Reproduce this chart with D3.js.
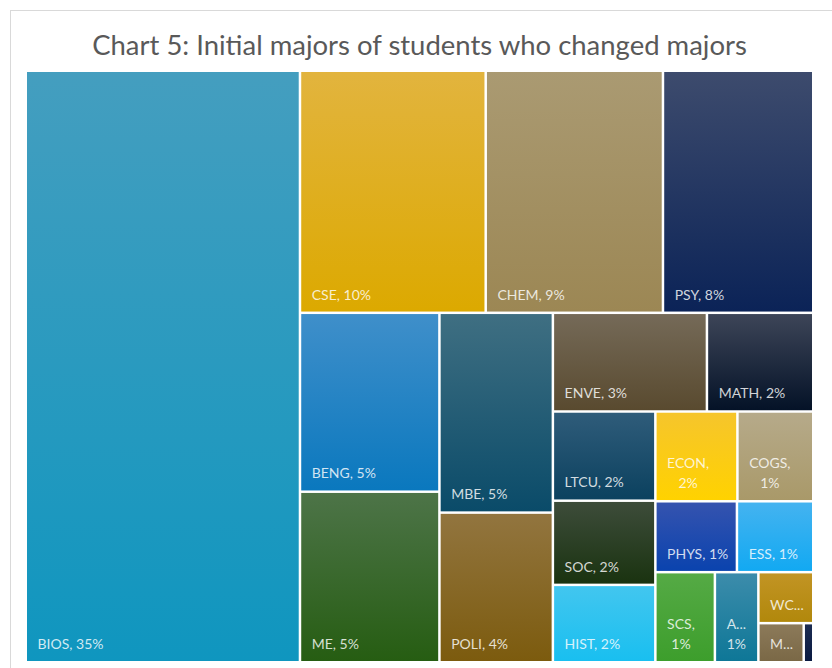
<!DOCTYPE html>
<html>
<head>
<meta charset="utf-8">
<script src="https://cdn.jsdelivr.net/npm/d3@7"></script>
<style>
  body { margin: 0; background: #ffffff; }
  svg { display: block; }
</style>
</head>
<body>
<svg id="chart" width="832" height="668"></svg>
<script>
// Initial majors of students who later changed majors (share of students, %)
const majors = ["BIOS", "CSE", "CHEM", "PSY", "BENG", "ME", "MBE", "POLI", "ENVE", "MATH",
                "LTCU", "SOC", "HIST", "ECON", "COGS", "PHYS", "ESS", "SCS", "ANTH", "WCH", "MSE", "PHIL"];
const shares = [34.78, 9.64, 9.20, 7.80, 5.35, 5.10, 4.86, 3.64, 3.26, 2.25,
                1.96, 1.85, 1.70, 1.58, 1.46, 1.24, 1.16, 1.15, 0.84, 0.60, 0.38, 0.08];
const titleText = "Chart 5: Initial majors of students who changed majors";

// Fill gradients for each major: lighter top, deeper bottom
const topColors = ["#449ebf", "#e2b43e", "#aa9a72", "#3d4b6d", "#3f8fca", "#4d7448", "#3f6f82", "#92753f",
                   "#756a58", "#3d4558", "#2f5c7a", "#3d4c3a", "#42c6ef", "#f6c52c", "#b6aa8a", "#3553af",
                   "#44b3f0", "#55aa45", "#3c8cab", "#c29424", "#8c7a5a", "#1c2c52"];
const bottomColors = ["#0f96bf", "#dca900", "#9c8754", "#0b2357", "#0a78be", "#265d12", "#0a4b69", "#7c5b0e",
                      "#594a2f", "#041227", "#0b415f", "#1a3310", "#19bff0", "#ffd200", "#a99969", "#0a43ae",
                      "#12a9f2", "#3d9e2c", "#0e7797", "#b1880c", "#7a6846", "#0a1a42"];

const W = 832, H = 668;
const plot = { x: 27, y: 72, w: 785, h: 589 };
const LABEL_FONT = "Lato, 'Open Sans', sans-serif";
const LABEL_SIZE = 14;

const svg = d3.select("#chart");

// chart frame
svg.append("rect")
  .attr("x", 10.5).attr("y", 10.5)
  .attr("width", W + 20).attr("height", H + 20)
  .attr("fill", "#ffffff").attr("stroke", "#d9d9d9").attr("stroke-width", 1);

// title, sized to span the plot width nicely
const title = svg.append("text")
  .attr("x", plot.x + plot.w / 2).attr("y", 55)
  .attr("text-anchor", "middle")
  .attr("font-family", LABEL_FONT)
  .attr("font-size", 24)
  .attr("fill", "#595959")
  .text(titleText);
const tw = title.node().getComputedTextLength();
if (tw > 0) title.attr("font-size", 24 * 655 / tw);

// Squarified tiling that measures aspect with a slight horizontal stretch
function stretchedSquarify(stretch) {
  return function (parent, x0, y0, x1, y1) {
    const nodes = parent.children, n = nodes.length;
    let value = parent.value, i0 = 0;
    while (i0 < n) {
      const dx = x1 - x0, dy = y1 - y0, dice = dx < dy;
      const worst = (i1) => {
        let s = 0;
        for (let i = i0; i < i1; i++) s += nodes[i].value;
        let m = 0;
        for (let i = i0; i < i1; i++) {
          const v = nodes[i].value;
          let rw, rh;
          if (dice) { rh = dy * s / value; rw = dx * v / s; }
          else { rw = dx * s / value; rh = dy * v / s; }
          const r = stretch * rw / rh;
          m = Math.max(m, r, 1 / r);
        }
        return m;
      };
      let i1 = i0 + 1, best = worst(i1);
      while (i1 < n) {
        const next = worst(i1 + 1);
        if (next > best) break;
        best = next; i1++;
      }
      const children = nodes.slice(i0, i1);
      const sum = d3.sum(children, d => d.value);
      const row = { value: sum, children };
      if (dice) {
        const ye = i1 >= n ? y1 : y0 + dy * sum / value;
        d3.treemapDice(row, x0, y0, x1, ye); y0 = ye;
      } else {
        const xe = i1 >= n ? x1 : x0 + dx * sum / value;
        d3.treemapSlice(row, x0, y0, xe, y1); x0 = xe;
      }
      value -= sum; i0 = i1;
    }
  };
}

const items = majors.map((m, i) => ({ name: m, value: shares[i], i }));
const total = d3.sum(shares);

const root = d3.hierarchy({ children: items })
  .sum(d => d.value || 0)
  .sort((a, b) => b.value - a.value);

d3.treemap()
  .size([plot.w, plot.h])
  .paddingInner(2.5)
  .tile(stretchedSquarify(1.075))(root);

const defs = svg.append("defs");
items.forEach((d, i) => {
  const g = defs.append("linearGradient")
    .attr("id", "grad" + i)
    .attr("x1", 0).attr("y1", 0).attr("x2", 0).attr("y2", 1);
  g.append("stop").attr("offset", 0).attr("stop-color", topColors[i]);
  g.append("stop").attr("offset", 1).attr("stop-color", bottomColors[i]);
});

const chartG = svg.append("g").attr("transform", `translate(${plot.x},${plot.y})`);
const leaves = root.leaves();

chartG.selectAll("rect.cell")
  .data(leaves)
  .join("rect")
  .attr("class", "cell")
  .attr("x", d => d.x0).attr("y", d => d.y0)
  .attr("width", d => Math.max(0, d.x1 - d.x0))
  .attr("height", d => Math.max(0, d.y1 - d.y0))
  .attr("fill", d => `url(#grad${d.data.i})`);

// text measuring helper
const probe = svg.append("text")
  .attr("font-family", LABEL_FONT).attr("font-size", LABEL_SIZE)
  .attr("visibility", "hidden");
const measure = s => { probe.text(s); return probe.node().getComputedTextLength(); };

function truncate(str, maxW) {
  if (measure(str) <= maxW) return str;
  for (let k = str.length - 1; k >= 1; k--) {
    const s = str.slice(0, k).replace(/[\s,]+$/, "") + "...";
    if (s.length > 3 && measure(s) <= maxW) return s;
  }
  return null;
}

const PAD_LEFT = 10.5, FIT_MARGIN = 8, BASE_OFFSET = 12, LINE_STEP = 20;

leaves.forEach(d => {
  const w = d.x1 - d.x0, h = d.y1 - d.y0;
  const pct = Math.round(d.value / total * 100);
  const full = `${d.data.name}, ${pct}%`;
  const availW = w - 2 * FIT_MARGIN;
  let lines = [];
  if (availW <= 0) return;
  if (measure(full) <= availW && h >= 24) lines = [full];
  else if (h >= 60) lines = [truncate(d.data.name + ",", availW), truncate(pct + "%", availW)];
  else if (h >= 24) lines = [truncate(full, availW)];
  lines = lines.filter(Boolean);
  if (!lines.length) return;
  const widths = lines.map(measure);
  const blockW = d3.max(widths);
  const g = chartG.append("g");
  lines.forEach((ln, k) => {
    const baseline = d.y1 - BASE_OFFSET - (lines.length - 1 - k) * LINE_STEP;
    g.append("text")
      .attr("x", lines.length > 1 ? d.x0 + PAD_LEFT + blockW / 2 : d.x0 + PAD_LEFT)
      .attr("y", baseline)
      .attr("text-anchor", lines.length > 1 ? "middle" : "start")
      .attr("font-family", LABEL_FONT)
      .attr("font-size", LABEL_SIZE)
      .attr("fill", "#ffffff")
      .attr("fill-opacity", 0.82)
      .text(ln);
  });
});
probe.remove();
</script>
</body>
</html>
